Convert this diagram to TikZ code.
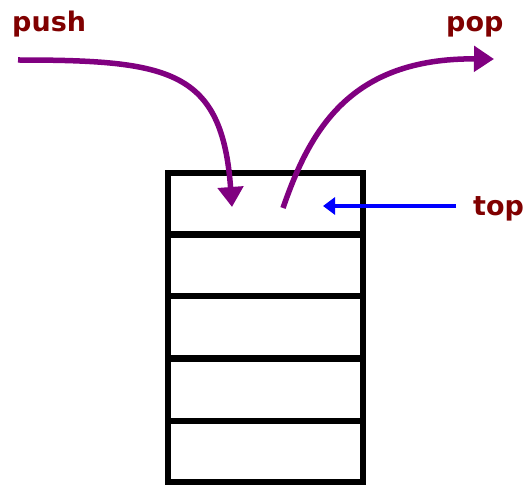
\documentclass[tikz,border=0pt]{standalone}
\usepackage{fontspec}
\setmainfont{DejaVu Sans}
\usetikzlibrary{arrows.meta}
\definecolor{lblred}{HTML}{800000}
\definecolor{arrpurple}{HTML}{800080}
\definecolor{arrblue}{HTML}{0000FF}
\begin{document}
\begin{tikzpicture}[x=1pt,y=-1pt,
  cell/.style={draw=black,line width=5.5pt,minimum width=195pt,minimum height=62pt,inner sep=0pt,outer sep=0pt},
  lbl/.style={text=lblred,font=\fontsize{27}{31}\selectfont\bfseries,inner sep=0pt,anchor=base west},
  purplearrow/.style={draw=arrpurple,line width=5.5pt,-{Triangle[width=25pt,length=20pt]}},
  bluearrow/.style={draw=arrblue,line width=4pt,-{Triangle[width=17pt,length=12pt]}}]
\useasboundingbox[fill=white] (0,0) rectangle (524,484);
\node[cell] (c1) at (265.5,204) {};
\node[cell] (c2) at (265.5,265) {};
\node[cell] (c3) at (265.5,327) {};
\node[cell] (c4) at (265.5,390) {};
\node[cell,minimum height=61pt] (c5) at (265.5,451.5) {};
\node[lbl] (push) at (12,32) {push};
\node[lbl] (pop) at (446,32) {pop};
\node[lbl] (top) at (473,215) {top};
\coordinate (pushfrom) at (18,60);
\coordinate (pushto) at (232,207);
\coordinate (popfrom) at (283,208);
\coordinate (popto) at (494,59);
\coordinate (topfrom) at (456,206);
\coordinate (topto) at (323,206);
\draw[purplearrow] (pushfrom) .. controls (170,60) and (222,70) .. (pushto);
\draw[purplearrow] (popfrom) .. controls (310,130) and (350,58) .. (popto);
\draw[bluearrow] (topfrom) -- (topto);
\end{tikzpicture}
\end{document}
